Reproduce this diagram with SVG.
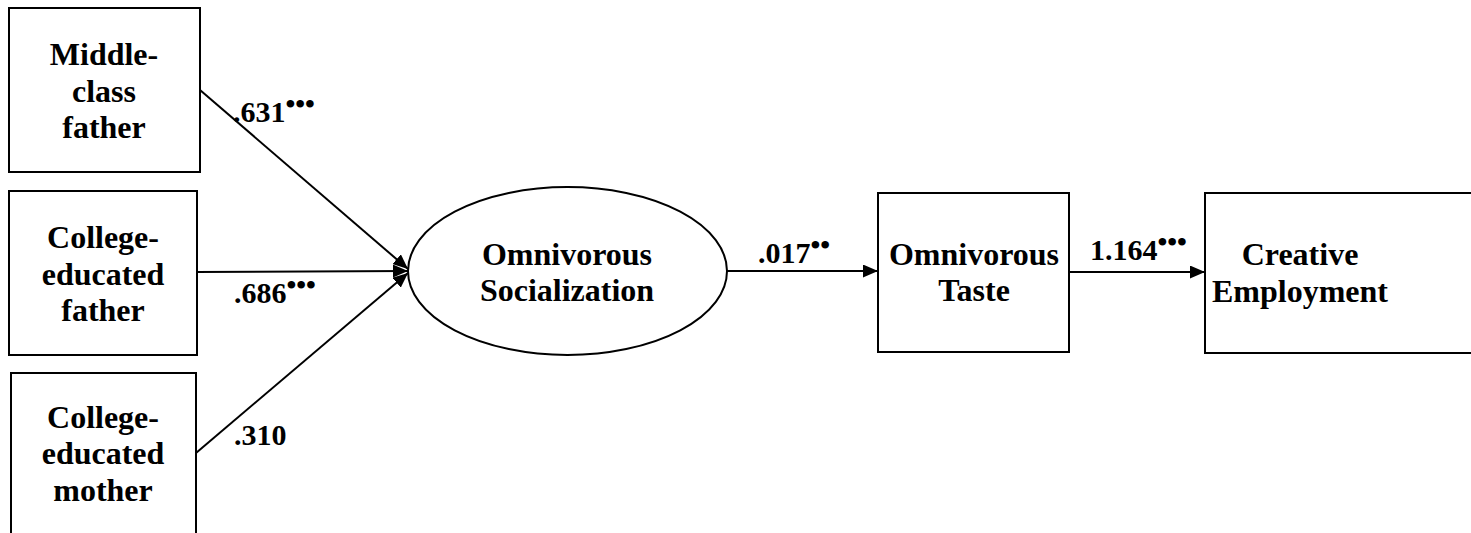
<svg xmlns="http://www.w3.org/2000/svg" width="1471" height="533" viewBox="0 0 1471 533">
<defs>
<style>
.box{fill:#fff;stroke:#000;stroke-width:2}
.t{font-family:"Liberation Serif","Times New Roman",serif;font-weight:bold;font-size:32px;fill:#000;text-anchor:middle}
.lbl{font-family:"Liberation Serif","Times New Roman",serif;font-weight:bold;font-size:30px;fill:#000}
.sup{font-size:28px}
.edge{stroke:#000;stroke-width:2;fill:none;marker-end:url(#ah)}
</style>
<marker id="ah" viewBox="0 0 15 13" refX="15" refY="6.5" markerWidth="15" markerHeight="13" markerUnits="userSpaceOnUse" orient="auto">
<path d="M0,0 L15,6.5 L0,13 Z" fill="#000"/>
</marker>
</defs>
<rect width="1471" height="533" fill="#fff"/>
<g id="connectors">
<line class="edge" x1="200" y1="90" x2="408" y2="269"/>
<line class="edge" x1="197" y1="272" x2="408" y2="271"/>
<line class="edge" x1="196" y1="453" x2="408" y2="273"/>
<line class="edge" x1="727" y1="271" x2="878" y2="271"/>
<line class="edge" x1="1069" y1="272" x2="1205" y2="272"/>
</g>
<g id="labels">
<text class="lbl" x="233" y="122">.631<tspan class="sup" dy="-9">•••</tspan></text>
<text class="lbl" x="234" y="303">.686<tspan class="sup" dy="-9">•••</tspan></text>
<text class="lbl" x="234" y="445">.310</text>
<text class="lbl" x="758" y="263">.017<tspan class="sup" dy="-9">••</tspan></text>
<text class="lbl" x="1090" y="260">1.164<tspan class="sup" dy="-9">•••</tspan></text>
</g>
<g id="n-middle-class-father">
<rect class="box" x="9" y="8" width="191" height="164"/>
<text class="t" x="104" y="65">Middle-</text>
<text class="t" x="104" y="102">class</text>
<text class="t" x="104" y="138">father</text>
</g>
<g id="n-college-father">
<rect class="box" x="9" y="191" width="188" height="164"/>
<text class="t" x="103" y="248">College-</text>
<text class="t" x="103" y="285">educated</text>
<text class="t" x="103" y="321">father</text>
</g>
<g id="n-college-mother">
<rect class="box" x="11" y="373" width="185" height="175"/>
<text class="t" x="103" y="428">College-</text>
<text class="t" x="103" y="464">educated</text>
<text class="t" x="103" y="501">mother</text>
</g>
<g id="n-socialization">
<ellipse class="box" cx="567.5" cy="271" rx="159.5" ry="84"/>
<text class="t" x="567" y="265">Omnivorous</text>
<text class="t" x="567" y="301">Socialization</text>
</g>
<g id="n-taste">
<rect class="box" x="878" y="193" width="191" height="159"/>
<text class="t" x="974" y="265">Omnivorous</text>
<text class="t" x="974" y="301">Taste</text>
</g>
<g id="n-employment">
<rect class="box" x="1205" y="193" width="280" height="160"/>
<text class="t" x="1300" y="265">Creative</text>
<text class="t" x="1300" y="302">Employment</text>
</g>
</svg>
